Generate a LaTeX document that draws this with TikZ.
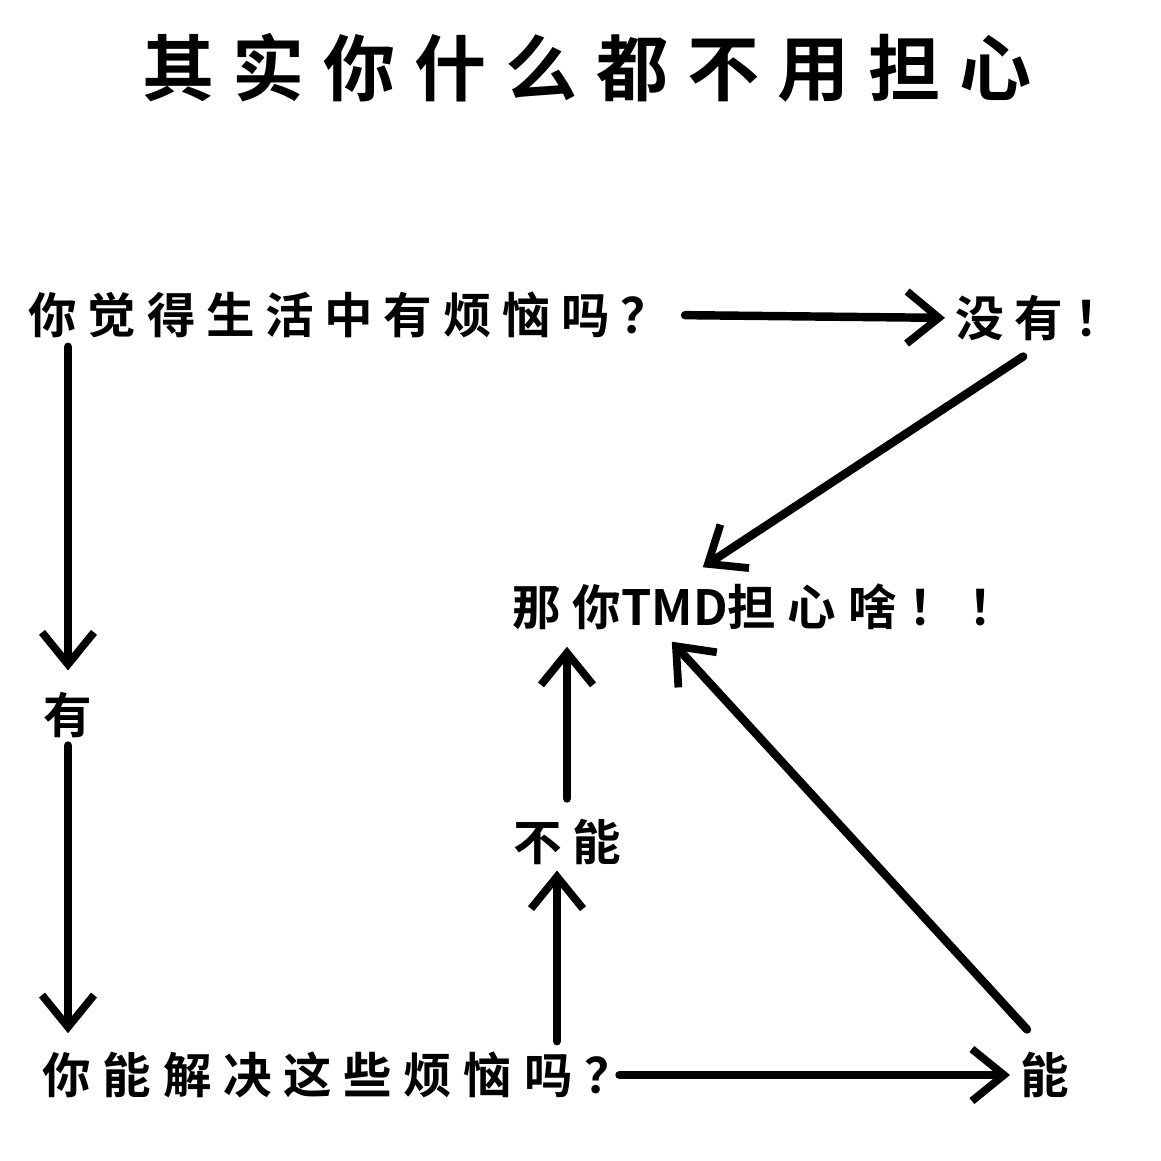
\documentclass[tikz,border=0pt]{standalone}
\usepackage{fontspec}
\usetikzlibrary{arrows.meta}
\newfontfamily\cjk{Noto Sans CJK SC}[BoldFont={Noto Sans CJK SC Bold}]
\newcommand{\titlefont}{\cjk\bfseries\addfontfeature{LetterSpace=26}\fontsize{20.5pt}{22pt}\selectfont}
\newcommand{\boxfont}{\cjk\bfseries\addfontfeature{LetterSpace=22}\fontsize{13.8pt}{15pt}\selectfont}
\newcommand{\wideboxfont}{\cjk\bfseries\addfontfeature{LetterSpace=24}\fontsize{13.8pt}{15pt}\selectfont}
\tikzset{
  txt/.style={inner sep=0pt, font=\boxfont},
  arr/.style={line width=2.4pt, line cap=round,
    -{Straight Barb[length=3.2mm,width=5.2mm,line width=2.2pt]}}
}

\begin{document}
\begin{tikzpicture}[x=0.01cm,y=-0.01cm]
 \useasboundingbox[fill=white] (0,0) rectangle (1161,1161);

 \node[inner sep=0pt, font=\titlefont] (title) at (587,68) {其实你什么都不用担心};

 \node[txt, anchor=west] (q1) at (28,315) {你觉得生活中有烦恼吗？};
 \node[txt, anchor=west] (no) at (955,318) {没有！};
 \node[txt, font=\wideboxfont, anchor=west] (tmd) at (512,607) {那你{\addfontfeature{LetterSpace=0}TMD}担心啥！！};
 \node[txt] (yes) at (68,715) {有};
 \node[txt, font=\wideboxfont, anchor=west] (q2) at (42,1075) {你能解决这些烦恼吗？};
 \node[txt] (can) at (1045,1075) {能};
 \node[txt] (cannot) at (567,842) {不能};

 \draw[arr, shorten <=0.15cm, shorten >=0.1cm] (q1.east) -- (no.west);
 \draw[arr] ([xshift=-0.16cm,yshift=-0.15cm]no.south) -- ([xshift=-0.62cm,yshift=0.16cm]tmd.north);
 \draw[arr, shorten <=0.08cm, shorten >=0.21cm] (yes |- q1.south) -- (yes.north);
 \draw[arr, shorten <=0.07cm, shorten >=0.18cm] (yes.south) -- (yes |- q2.north);
 \draw[arr, shorten >=0.1cm] ([xshift=-0.14cm]q2.east) -- (can.west);
 \draw[arr] ([xshift=-0.18cm,yshift=0.22cm]can.north) -- ([xshift=-0.93cm,yshift=-0.11cm]tmd.south);
 \draw[arr, shorten <=0.1cm, shorten >=0.05cm] ([xshift=-0.1cm]cannot |- q2.north) -- ([xshift=-0.1cm]cannot.south);
 \draw[arr, shorten <=0.2cm, shorten >=0.16cm] (cannot.north) -- (cannot |- tmd.south);
\end{tikzpicture}
\end{document}
